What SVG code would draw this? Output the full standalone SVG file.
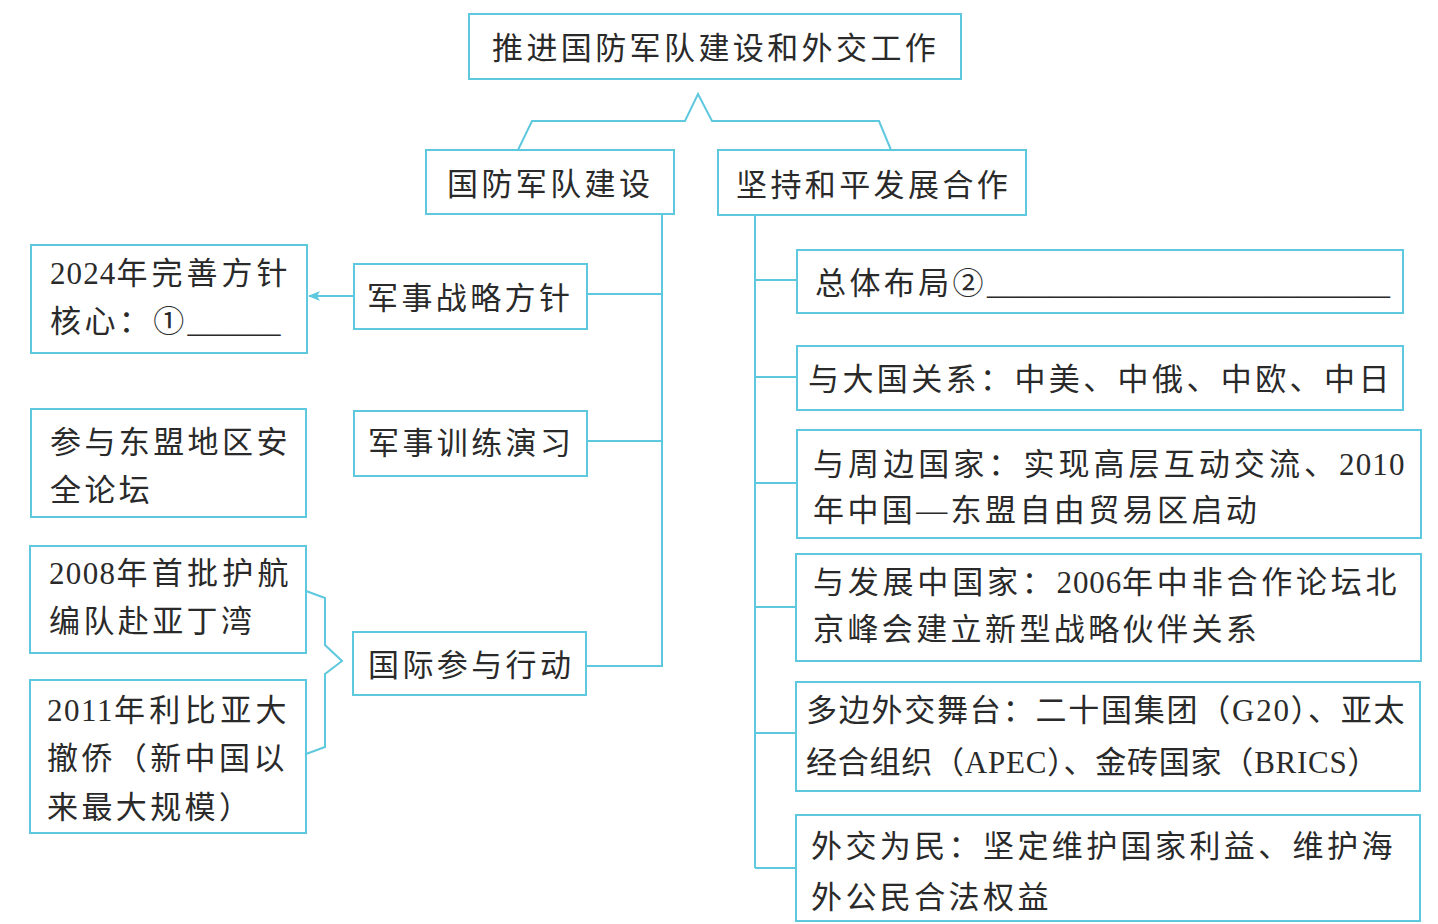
<svg xmlns="http://www.w3.org/2000/svg" width="1438" height="924" viewBox="0 0 1438 924">
<defs>
<style>
.box{fill:#fff;stroke:#5ec8de;stroke-width:2}
.ln{fill:none;stroke:#5ec8de;stroke-width:2}
text{font-family:"Liberation Serif","Noto Sans CJK SC",serif;font-size:31px;fill:#2a2a2a;letter-spacing:3.4px}
.u{letter-spacing:0;font-family:"Liberation Serif",serif}
.d{letter-spacing:0.5px}
</style>
<marker id="ah" markerWidth="12" markerHeight="10" refX="11" refY="5" orient="auto" markerUnits="userSpaceOnUse">
<path d="M0,0 L12,5 L0,10 L3,5 Z" fill="#5ec8de"/>
</marker>
</defs>
<rect width="1438" height="924" fill="#fff"/>
<g id="connectors">
<polyline class="ln" points="518,150 532,121 685,121 698,94 712,121 879,121 891,150"/>
<polyline class="ln" points="662,215 662,666 586,666"/>
<line class="ln" x1="587" y1="294" x2="662" y2="294"/>
<line class="ln" x1="587" y1="441" x2="662" y2="441"/>
<line class="ln" x1="354" y1="296" x2="309" y2="296" marker-end="url(#ah)"/>
<polyline class="ln" points="306,591 325,598 325,645 342,661 325,674 325,747 306,754"/>
<line class="ln" x1="755" y1="215" x2="755" y2="868"/>
<line class="ln" x1="755" y1="280" x2="797" y2="280"/>
<line class="ln" x1="755" y1="377" x2="797" y2="377"/>
<line class="ln" x1="755" y1="483" x2="797" y2="483"/>
<line class="ln" x1="755" y1="607" x2="796" y2="607"/>
<line class="ln" x1="755" y1="733" x2="796" y2="733"/>
<line class="ln" x1="755" y1="868" x2="796" y2="868"/>
</g>
<g id="root"><rect class="box" x="469" y="14" width="492" height="65"/><text x="492" y="59">推进国防军队建设和外交工作</text></g>
<g id="defense"><rect class="box" x="426" y="150" width="248" height="64"/><text x="447" y="195">国防军队建设</text></g>
<g id="peace"><rect class="box" x="718" y="150" width="308" height="65"/><text x="736" y="196">坚持和平发展合作</text></g>
<g id="strategy"><rect class="box" x="354" y="264" width="233" height="65"/><text x="367" y="309">军事战略方针</text></g>
<g id="strategy-core"><rect class="box" x="31" y="245" width="276" height="108"/><text x="50" y="284" textLength="241" lengthAdjust="spacing"><tspan class="d">2024</tspan>年完善方针</text><text x="50" y="332">核心：①<tspan class="u">______</tspan></text></g>
<g id="training"><rect class="box" x="354" y="411" width="233" height="65"/><text x="368" y="454">军事训练演习</text></g>
<g id="asean"><rect class="box" x="31" y="409" width="275" height="108"/><text x="50" y="453">参与东盟地区安</text><text x="50" y="501">全论坛</text></g>
<g id="intl"><rect class="box" x="353" y="632" width="233" height="63"/><text x="368" y="676">国际参与行动</text></g>
<g id="escort"><rect class="box" x="30" y="546" width="276" height="107"/><text x="49" y="584" textLength="243" lengthAdjust="spacing"><tspan class="d">2008</tspan>年首批护航</text><text x="49" y="632">编队赴亚丁湾</text></g>
<g id="libya"><rect class="box" x="30" y="680" width="276" height="153"/><text x="47" y="721" textLength="243" lengthAdjust="spacing"><tspan class="d">2011</tspan>年利比亚大</text><text x="47" y="769">撤侨（新中国以</text><text x="47" y="818">来最大规模）</text></g>
<g id="layout"><rect class="box" x="797" y="250" width="606" height="63"/><text x="815" y="294">总体布局②<tspan class="u">__________________________</tspan></text></g>
<g id="powers"><rect class="box" x="797" y="346" width="606" height="64"/><text x="808" y="390">与大国关系：中美、中俄、中欧、中日</text></g>
<g id="neighbors"><rect class="box" x="797" y="430" width="624" height="108"/><text x="813" y="475" textLength="592" lengthAdjust="spacing">与周边国家：实现高层互动交流、<tspan class="d">2010</tspan></text><text x="813" y="521">年中国—东盟自由贸易区启动</text></g>
<g id="developing"><rect class="box" x="796" y="554" width="625" height="107"/><text x="813" y="593" textLength="587" lengthAdjust="spacing">与发展中国家：<tspan class="d">2006</tspan>年中非合作论坛北</text><text x="813" y="640">京峰会建立新型战略伙伴关系</text></g>
<g id="multilateral"><rect class="box" x="796" y="682" width="624" height="109"/><text x="806" y="721" textLength="602" lengthAdjust="spacing">多边外交舞台：二十国集团（G20）、亚太</text><text x="806" y="773" textLength="576" lengthAdjust="spacing">经合组织（APEC）、金砖国家（BRICS）</text></g>
<g id="people"><rect class="box" x="796" y="815" width="624" height="106"/><text x="811" y="857">外交为民：坚定维护国家利益、维护海</text><text x="811" y="908">外公民合法权益</text></g>
</svg>
